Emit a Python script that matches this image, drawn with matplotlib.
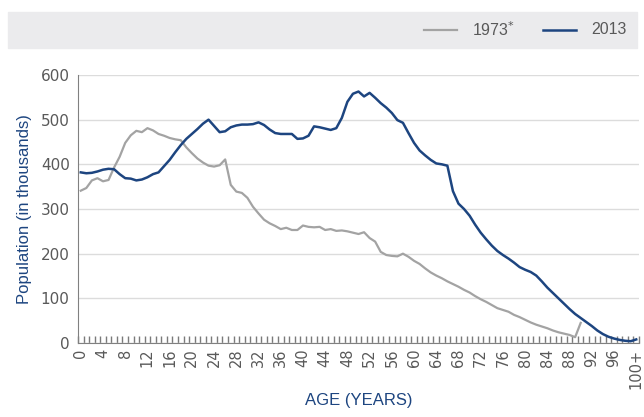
import numpy as np
import matplotlib.pyplot as plt
from matplotlib.patches import Rectangle

# population by single year of age, in thousands (last category is 100+)
pop_2013 = [382, 380, 381, 384, 388, 390, 389, 378, 369, 368,
            364, 366, 371, 378, 382, 396, 410, 427, 443, 457,
            468, 479, 491, 500, 486, 472, 474, 483, 487, 489,
            489, 490, 494, 488, 478, 470, 468, 468, 468, 457,
            458, 464, 485, 483, 480, 477, 481, 504, 540, 558,
            563, 552, 560, 549, 537, 527, 515, 499, 493, 470,
            448, 431, 420, 410, 402, 400, 397, 340, 312, 300,
            285, 265, 247, 232, 218, 206, 197, 189, 180, 170,
            164, 159, 151, 138, 124, 112, 100, 88, 76, 65,
            56, 47, 38, 28, 20, 14, 10, 7, 5, 4,
            8]

# 1973 stops at 90 (last value is 90+)
pop_1973 = [341, 347, 364, 369, 362, 365, 393, 417, 448, 465,
            475, 472, 481, 476, 468, 464, 459, 456, 454, 438,
            425, 413, 404, 397, 395, 398, 411, 354, 339, 336,
            325, 305, 290, 276, 268, 262, 255, 258, 253, 253,
            263, 260, 259, 260, 253, 255, 251, 252, 250, 247,
            244, 248, 235, 227, 204, 197, 195, 194, 200, 193,
            184, 177, 167, 158, 151, 145, 138, 132, 126, 119,
            113, 105, 98, 92, 85, 78, 74, 70, 63, 58,
            52, 46, 41, 37, 33, 28, 24, 21, 18, 13,
            45]

age_labels = [str(a) for a in range(0, 100, 4)] + ["100+"]

blue = "#1d4580"
grey = "#a3a3a3"
txt = "#595959"
narrow = ["Liberation Sans Narrow", "Liberation Sans", "DejaVu Sans"]

fig = plt.figure(figsize=(6.44, 4.17), dpi=100)
ax = fig.add_axes([78 / 644, 1 - 343 / 417, (639 - 78) / 644, (343 - 75) / 417])

ages = np.arange(len(pop_2013))
ax.plot(np.arange(len(pop_1973)), pop_1973, color=grey, lw=1.6)
ax.plot(ages, pop_2013, color=blue, lw=1.8)

ax.set_xlim(-0.5, 100.5)
ax.set_ylim(0, 600)
ax.set_yticks(range(0, 601, 100))
ax.yaxis.grid(True, color="#dcdcdc", lw=1)
ax.set_axisbelow(True)
ax.tick_params(axis="y", length=0, labelsize=11, labelcolor=txt, pad=6)

ax.set_xticks(list(range(0, 100, 4)) + [100])
ax.set_xticklabels(age_labels, rotation=90, fontsize=10.5, color=txt)
ax.set_xticks(np.arange(-0.5, 101, 1), minor=True)
ax.tick_params(axis="x", which="major", length=0, pad=4)
ax.tick_params(axis="x", which="minor", direction="in", length=5, color="#7a7a7a", width=1)

for s in ["top", "right"]:
    ax.spines[s].set_visible(False)
ax.spines["left"].set_color("#808080")
ax.spines["bottom"].set_color("#808080")

ax.set_ylabel("Population (in thousands)", color=blue, fontsize=12, family=narrow, labelpad=6)
fig.text((78 + 639) / 2 / 644, 1 - 400 / 417, "AGE (YEARS)", color=blue, fontsize=12,
         family=narrow, ha="center", va="center")

# legend band
fig.patches.append(Rectangle((8 / 644, 1 - 48 / 417), 629 / 644, 36 / 417,
                             transform=fig.transFigure, color="#ebebed", zorder=0))
fig.add_artist(plt.Line2D([424 / 644, 457 / 644], [1 - 30 / 417] * 2, color=grey, lw=1.6))
fig.text(472 / 644, 1 - 30 / 417, "1973$^{*}$", color=txt, fontsize=11.5, family=narrow, va="center")
fig.add_artist(plt.Line2D([543 / 644, 576 / 644], [1 - 30 / 417] * 2, color=blue, lw=1.8))
fig.text(591 / 644, 1 - 30 / 417, "2013", color=txt, fontsize=11.5, family=narrow, va="center")

fig.savefig("out.png", dpi=100)
